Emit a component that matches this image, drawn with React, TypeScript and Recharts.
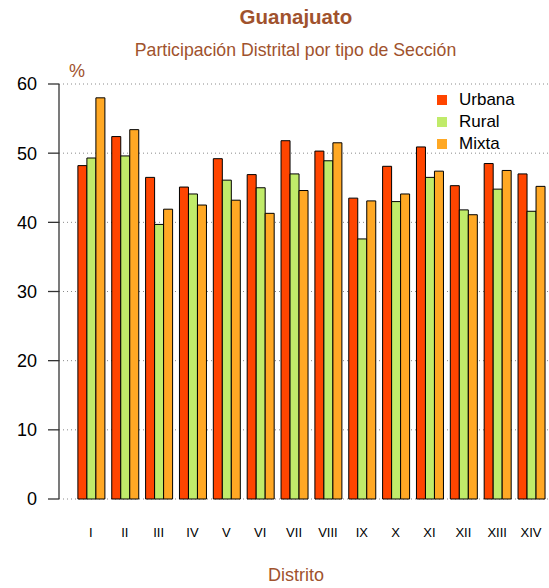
import React from 'react';
import {
  BarChart, Bar, XAxis, YAxis, CartesianGrid,
} from 'recharts';

const distritos = ['I', 'II', 'III', 'IV', 'V', 'VI', 'VII', 'VIII', 'IX', 'X', 'XI', 'XII', 'XIII', 'XIV'];
const urbana = [48.2, 52.4, 46.5, 45.1, 49.2, 46.9, 51.8, 50.3, 43.5, 48.1, 50.9, 45.3, 48.5, 47.0];
const rural = [49.3, 49.6, 39.7, 44.1, 46.1, 45.0, 47.0, 48.9, 37.6, 43.0, 46.5, 41.8, 44.8, 41.6];
const mixta = [58.0, 53.4, 41.9, 42.5, 43.2, 41.3, 44.6, 51.5, 43.1, 44.1, 47.4, 41.1, 47.5, 45.2];
const yTicks = [0, 10, 20, 30, 40, 50, 60];

const series = [
  { key: 'Urbana', color: '#FF4500' },
  { key: 'Rural', color: '#C0EB6A' },
  { key: 'Mixta', color: '#FFA824' },
];

const data = distritos.map((d, i) => ({
  distrito: d,
  Urbana: urbana[i],
  Rural: rural[i],
  Mixta: mixta[i],
}));

const FONT = '"Liberation Sans", Arial, Helvetica, sans-serif';
const TITLE_COLOR = '#A0522D';

// legend drawn as plain html so it doesn't eat plot width
const LegendBox = () => (
  <div style={{ position: 'absolute', left: 437, top: 89, fontFamily: FONT }}>
    {series.map((s) => (
      <div key={s.key} style={{ display: 'flex', alignItems: 'center', height: 22 }}>
        <span style={{ width: 10, height: 10, background: s.color, display: 'inline-block', marginRight: 12 }} />
        <span style={{ fontSize: 17, color: '#000' }}>{s.key}</span>
      </div>
    ))}
  </div>
);

export default function App() {
  return (
    <div style={{ position: 'absolute', left: 0, top: 0, width: 549, height: 588, background: '#fff', fontFamily: FONT, overflow: 'hidden' }}>
      <div style={{ position: 'absolute', left: 0, width: 592, top: 5, textAlign: 'center', fontSize: 20.5, fontWeight: 'bold', color: TITLE_COLOR }}>
        Guanajuato
      </div>
      <div style={{ position: 'absolute', left: 0, width: 591, top: 40, textAlign: 'center', fontSize: 17.7, color: TITLE_COLOR }}>
        Participación Distrital por tipo de Sección
      </div>
      <div style={{ position: 'absolute', left: 69, top: 61, fontSize: 18, color: TITLE_COLOR }}>%</div>
      <BarChart
        width={549}
        height={588}
        data={data}
        margin={{ top: 84, right: 0, bottom: 0, left: 0 }}
        barCategoryGap="11.5%"
        barGap={0}
      >
        <CartesianGrid vertical={false} stroke="#8a8a8a" strokeDasharray="1 3" />
        <XAxis
          dataKey="distrito"
          height={89}
          axisLine={false}
          tickLine={false}
          tickSize={0}
          tickMargin={29}
          padding={{ left: 15, right: 1 }}
          interval={0}
          tick={{ fill: '#000', fontSize: 13, fontFamily: FONT }}
        />
        <YAxis
          width={59}
          domain={[0, 60]}
          ticks={yTicks}
          interval={0}
          tickSize={11}
          tickMargin={11}
          axisLine={{ stroke: '#333', strokeWidth: 1.3 }}
          tickLine={{ stroke: '#333', strokeWidth: 1.3 }}
          tick={{ fill: '#000', fontSize: 18, fontFamily: FONT }}
        />
        {series.map((s) => (
          <Bar key={s.key} dataKey={s.key} fill={s.color} stroke="#000" strokeWidth={1} isAnimationActive={false} />
        ))}
      </BarChart>
      <LegendBox />
      <div style={{ position: 'absolute', left: 0, width: 592, top: 565, textAlign: 'center', fontSize: 18, color: TITLE_COLOR }}>
        Distrito
      </div>
    </div>
  );
}
